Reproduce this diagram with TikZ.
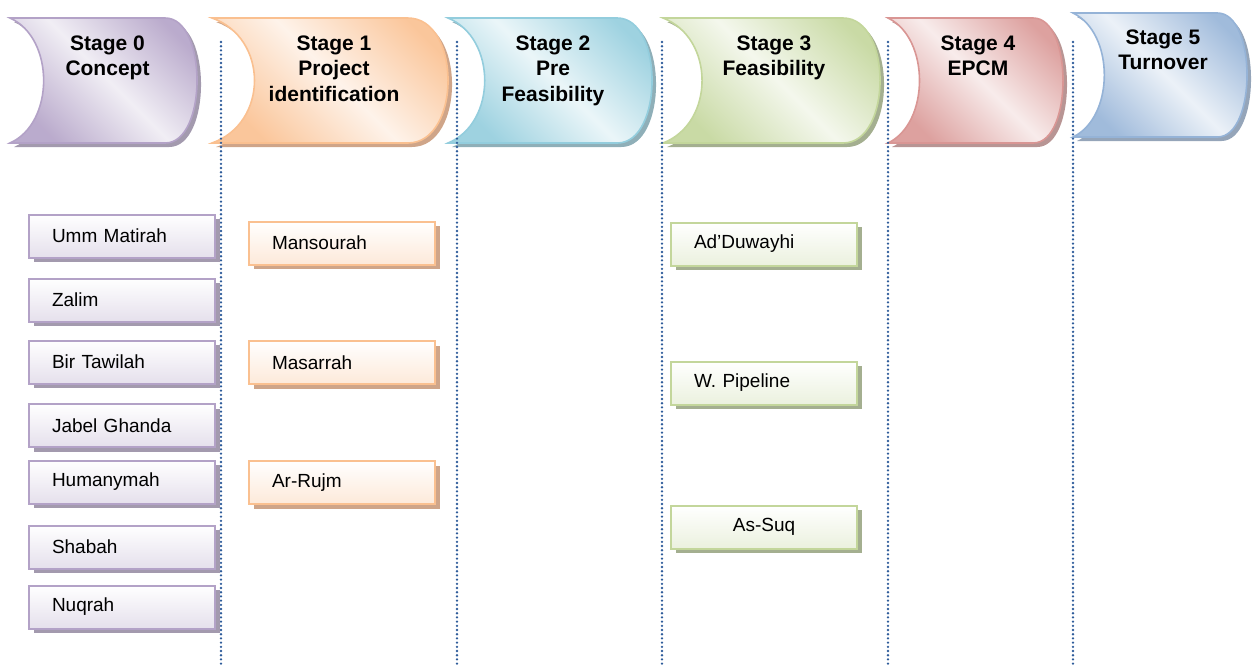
\documentclass[tikz,border=0pt]{standalone}
\usepackage{fontspec}
\setmainfont{Liberation Sans}
\usetikzlibrary{positioning,shadows}

\definecolor{purpline}{HTML}{B3A2C7}
\definecolor{purplight}{HTML}{E5E0EC}
\definecolor{purpshade}{HTML}{A39AAE}
\definecolor{orngline}{HTML}{FAC090}
\definecolor{ornglight}{HTML}{FDE9D9}
\definecolor{orngshade}{HTML}{CFA589}
\definecolor{aqualine}{HTML}{93CDDD}
\definecolor{aqualight}{HTML}{DAEEF3}
\definecolor{aquashade}{HTML}{8FAFB8}
\definecolor{grenline}{HTML}{C3D69B}
\definecolor{grenlight}{HTML}{EBF1DE}
\definecolor{grenshade}{HTML}{A4AF90}
\definecolor{redline}{HTML}{D99694}
\definecolor{redlight}{HTML}{F2DCDB}
\definecolor{redshade}{HTML}{B89594}
\definecolor{blueline}{HTML}{95B3D7}
\definecolor{bluelight}{HTML}{DCE6F2}
\definecolor{blueshade}{HTML}{95A5B9}
\definecolor{sepblue}{HTML}{2E5C9A}

% stage header: left, top, right, bottom, colour
\newcommand{\stagehead}[5]{%
  \path[draw=#5line, line width=0.8pt,
    general shadow={fill=#5shade, shadow xshift=2pt, shadow yshift=-2pt},
    left color=#5line!85!#5light, right color=#5line!85!#5light, middle color=#5light!55!white,
    shading angle=135]
    (#1,-#2) .. controls ({#1+0.24*(#3-#1)},{-#2-20}) and ({#1+0.24*(#3-#1)},{-#4+20}) .. (#1,-#4)
    -- ({#3-0.17*(#3-#1)},-#4)
    .. controls ({#3+0.057*(#3-#1)},-#4) and ({#3+0.057*(#3-#1)},-#2) .. ({#3-0.17*(#3-#1)},-#2)
    -- cycle;
}

\begin{document}
\begin{tikzpicture}[x=0.5pt,y=0.5pt,node distance=30pt,on grid,
    headtext/.style={font=\fontsize{10.5}{12.9}\selectfont\bfseries, align=center, anchor=north, inner sep=0pt},
    item/.style={draw=#1line, line width=1pt, top color=white, bottom color=#1light,
      general shadow={fill=#1shade, shadow xshift=2.3pt, shadow yshift=-2.3pt},
      minimum height=21.5pt, text width=70pt, inner xsep=11.5pt, inner ysep=0pt, align=left,
      font=\fontsize{9.5}{11}\selectfont},
    sep/.style={draw=sepblue, line width=1.3pt, line cap=round, dash pattern=on 0pt off 2.1pt}]
  \useasboundingbox (0,0) rectangle (1253,-666);

  % headers
  \stagehead{10}{18}{197}{143}{purp}
  \stagehead{212}{18}{448}{143}{orng}
  \stagehead{448}{18}{652}{143}{aqua}
  \stagehead{663}{18}{880}{143}{gren}
  \stagehead{888}{18}{1063}{143}{red}
  \stagehead{1073}{13}{1247}{137}{blue}

  \node[headtext] (s0) at (107.5,-35) {Stage 0\\Concept};
  \node[headtext] (s1) at (334,-35) {Stage 1\\Project\\identification};
  \node[headtext] (s2) at (553,-35) {Stage 2\\Pre\\Feasibility};
  \node[headtext] (s3) at (774,-35) {Stage 3\\Feasibility};
  \node[headtext] (s4) at (978,-35) {Stage 4\\EPCM};
  \node[headtext] (s5) at (1163,-29) {Stage 5\\Turnover};

  % separators
  \foreach \x in {221,457,662,888,1073}
    \draw[sep] (\x,-42) -- (\x,-666);

  % stage 0
  \node[item=purp] (umm) at (122,-236) {Umm Matirah};
  \node[item=purp] (zalim) [below=32pt of umm] {Zalim};
  \node[item=purp] (bir) [below=31pt of zalim] {Bir Tawilah};
  \node[item=purp] (jabel) [below=31.75pt of bir] {Jabel Ghanda};
  \node[item=purp] (human) [below=28.25pt of jabel] {Humanymah};
  \node[item=purp] (shabah) [below=32.5pt of human] {Shabah};
  \node[item=purp] (nuqrah) [below=30pt of shabah] {Nuqrah};

  % stage 1
  \node[item=orng] (mans) at (342,-243) {Mansourah};
  \node[item=orng] (masar) [below=59.75pt of mans] {Masarrah};
  \node[item=orng] (rujm) [below=60pt of masar] {Ar-Rujm};

  % stage 3
  \node[item=gren] (duway) at (764,-244) {Ad’Duwayhi};
  \node[item=gren] (pipe) [below=69.5pt of duway] {W. Pipeline};
  \node[item=gren, align=center] (suq) [below=72pt of pipe] {As-Suq};
\end{tikzpicture}
\end{document}
